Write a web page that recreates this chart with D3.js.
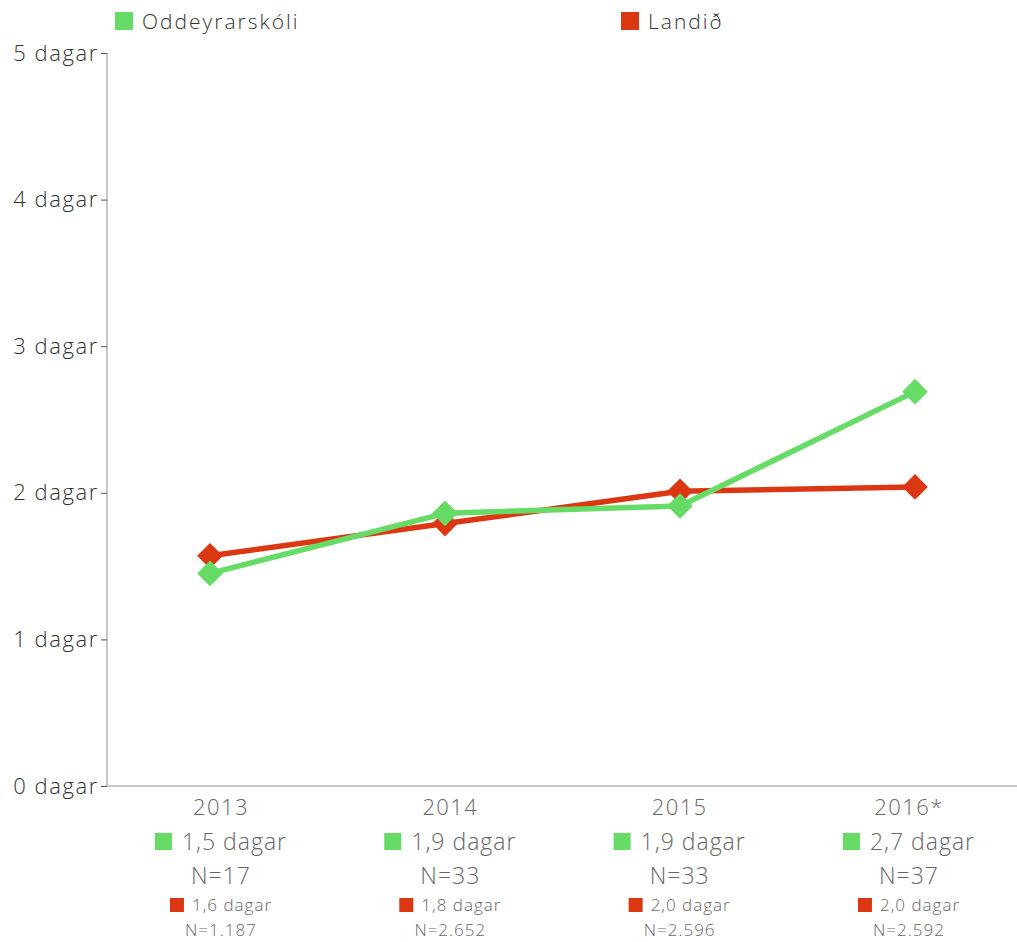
<!DOCTYPE html>
<html><head><meta charset="utf-8">
<script src="https://cdn.jsdelivr.net/npm/d3@7"></script>
<style>body{margin:0;background:#fff;} text{font-family:"Open Sans", Lato, sans-serif;}</style>
</head><body>
<svg id="chart" width="1017" height="942"></svg>
<script>
const years = ["2013","2014","2015","2016*"];
const schoolName = "Oddeyrarskóli";
const nationName = "Landið";
const schoolValues = [1.45, 1.86, 1.91, 2.69];
const nationValues = [1.57, 1.79, 2.01, 2.04];
const schoolLabels = ["1,5 dagar","1,9 dagar","1,9 dagar","2,7 dagar"];
const schoolN = ["N=17","N=33","N=33","N=37"];
const nationLabels = ["1,6 dagar","1,8 dagar","2,0 dagar","2,0 dagar"];
const nationN = ["N=1.187","N=2.652","N=2.596","N=2.592"];
const yTicks = [0,1,2,3,4,5];
const yTickLabels = ["0 dagar","1 dagar","2 dagar","3 dagar","4 dagar","5 dagar"];

const green = "#66db66", red = "#dc3713";
const FONT = "'Open Sans', Lato, sans-serif";
const svg = d3.select("#chart");
const x = d3.scalePoint().domain(years).range([210, 915]);
const xl = d3.scalePoint().domain(years).range([221, 909]);
const y = d3.scaleLinear().domain([0,5]).range([786, 53]);

// axes
svg.append("line").attr("x1",107).attr("x2",107).attr("y1",53).attr("y2",787)
  .attr("stroke","#c8c8c8").attr("stroke-width",2);
svg.append("line").attr("x1",106).attr("x2",1017).attr("y1",786).attr("y2",786)
  .attr("stroke","#c8c8c8").attr("stroke-width",2);
const yAxis = svg.append("g").attr("transform","translate(107,0)")
  .call(d3.axisLeft(y).tickValues(yTicks).tickFormat((d,i)=>yTickLabels[i]).tickSize(6).tickPadding(2));
yAxis.select(".domain").remove();
yAxis.selectAll(".tick line").attr("stroke","#555").attr("stroke-width",1);
yAxis.selectAll(".tick text").attr("font-size",22).attr("fill","#333").attr("font-weight",300)
  .attr("letter-spacing",1.6).style("font-family",FONT);

// legend
const legend = [{name:schoolName,color:green,x:115},{name:nationName,color:red,x:621}];
legend.forEach(l=>{
  svg.append("rect").attr("x",l.x).attr("y",12).attr("width",18).attr("height",18).attr("fill",l.color);
  svg.append("text").attr("x",l.x+27).attr("y",29).attr("font-size",21).attr("fill","#333")
    .attr("font-weight",300).attr("letter-spacing",2).text(l.name);
});

// lines
const line = d3.line().x((d,i)=>x(years[i])).y(d=>y(d));
const series = [{vals:nationValues,color:red},{vals:schoolValues,color:green}];
series.forEach(s=>{
  svg.append("path").attr("d",line(s.vals)).attr("fill","none").attr("stroke",s.color)
    .attr("stroke-width",5.5).attr("stroke-linejoin","round");
});
series.forEach(s=>{
  svg.selectAll(null).data(s.vals).enter().append("path")
    .attr("d",d3.symbol().type(d3.symbolSquare).size(330))
    .attr("transform",(d,i)=>`translate(${x(years[i])},${y(d)}) rotate(45)`)
    .attr("fill",s.color);
});

// bottom labels
years.forEach((yr,i)=>{
  const cx = xl(yr);
  svg.append("text").attr("x",cx).attr("y",815).attr("text-anchor","middle")
    .attr("font-size",22).attr("font-weight",300).attr("fill","#666").attr("letter-spacing",1.4).text(yr);
  const g1 = svg.append("g");
  const t1 = g1.append("text").attr("x",0).attr("y",850).attr("font-size",23).attr("fill","#666")
    .attr("font-weight",300).attr("letter-spacing",1).text(schoolLabels[i]);
  const w1 = t1.node().getComputedTextLength();
  g1.append("rect").attr("x",-27).attr("y",833).attr("width",17).attr("height",17).attr("fill",green);
  g1.attr("transform",`translate(${cx - (w1-27)/2},0)`);
  svg.append("text").attr("x",cx).attr("y",884).attr("text-anchor","middle")
    .attr("font-size",23).attr("font-weight",300).attr("fill","#666").attr("letter-spacing",1).text(schoolN[i]);
  const g2 = svg.append("g");
  const t2 = g2.append("text").attr("x",0).attr("y",911).attr("font-size",17).attr("fill","#666")
    .attr("font-weight",300).attr("letter-spacing",1).text(nationLabels[i]);
  const w2 = t2.node().getComputedTextLength();
  g2.append("rect").attr("x",-22).attr("y",898).attr("width",14).attr("height",14).attr("fill",red);
  g2.attr("transform",`translate(${cx - (w2-22)/2},0)`);
  svg.append("text").attr("x",cx).attr("y",936).attr("text-anchor","middle")
    .attr("font-size",17).attr("font-weight",300).attr("fill","#666").attr("letter-spacing",1).text(nationN[i]);
});
</script>
</body></html>
